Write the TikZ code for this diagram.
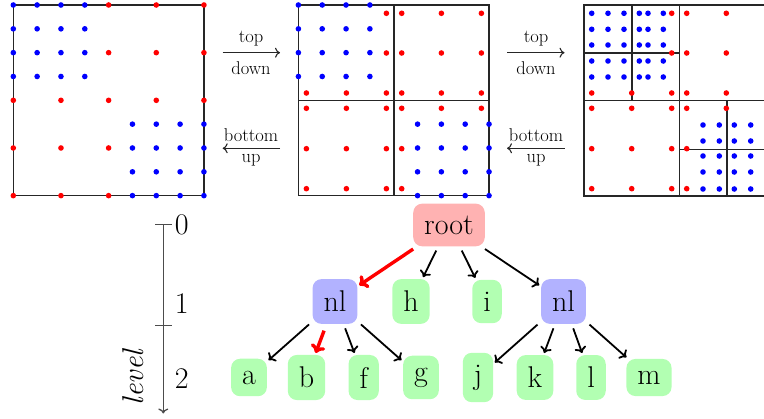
\documentclass[tikz,border=0pt]{standalone}
\usepackage{fontspec}
\usetikzlibrary{arrows.meta}
\begin{document}
\begin{tikzpicture}[x=1pt,y=-1pt,
  pframe/.style={draw=black!85, line width=1.6pt},
  bd/.style={fill=blue},
  rd/.style={fill=red},
  tnode/.style={rounded corners=9pt, inner xsep=11pt, inner ysep=12pt, font=\fontsize{30}{36}\selectfont},
  rootn/.style={tnode, fill=red!30},
  nln/.style={tnode, fill=blue!30},
  leaf/.style={tnode, fill=green!30},
  tedge/.style={-{To[length=6pt,width=12pt]}, line width=1.8pt, shorten <=4.5pt, shorten >=2pt},
  redge/.style={-{To[length=8pt,width=15pt]}, red, line width=3.4pt, shorten <=4.5pt, shorten >=2pt},
  parrow/.style={-{To[length=5pt,width=10pt]}, line width=1.1pt, black!85},
  plbl/.style={font=\fontsize{18.5}{22}\selectfont, inner sep=0pt},
  axlbl/.style={font=\fontsize{30}{36}\selectfont, inner sep=0pt},
]
\useasboundingbox (0,0) rectangle (764,419);
\clip (0,0) rectangle (764,419);

% ---------- panel 1 ----------
\def\s{23.83}
\def\r{2.8pt}
\begin{scope}[shift={(13.3,5)}]
  \draw[pframe] (0,0) rectangle (190.6,190.6);
  \foreach \i in {0,...,3} \foreach \j in {0,...,3}
    \fill[bd] (\i*\s,\j*\s) circle (\r);
  \foreach \i in {5,...,8} \foreach \j in {5,...,8}
    \fill[bd] (\i*\s,\j*\s) circle (\r);
  \foreach \i/\j in {4/0,6/0,8/0,4/2,6/2,8/2,0/4,2/4,4/4,6/4,8/4,0/6,2/6,4/6,0/8,2/8,4/8}
    \fill[rd] (\i*\s,\j*\s) circle (\r);
\end{scope}

% ---------- panel 2 ----------
\begin{scope}[shift={(298.4,5)}]
  \draw[pframe] (0,0) rectangle (190.6,190.6);
  \draw[pframe] (95.3,0) -- (95.3,190.6);
  \draw[pframe] (0,95.7) -- (190.6,95.7);
  \foreach \i in {0,...,3} \foreach \j in {0,...,3}
    \fill[bd] (\i*\s,\j*\s) circle (\r);
  \foreach \i in {5,...,8} \foreach \j in {5,...,8}
    \fill[bd] (\i*\s,\j*\s) circle (\r);
  \foreach \x/\y in {88/8.3,88/48,8/88,48/88,88/88}
    \fill[rd] (\x,\y) circle (\r);
  \foreach \x in {103.3,143,183} \foreach \y in {8.3,48,88}
    \fill[rd] (\x,\y) circle (\r);
  \foreach \x in {8,48,88} \foreach \y in {103.3,143.7,183.7}
    \fill[rd] (\x,\y) circle (\r);
  \foreach \x/\y in {103.3/103.3,143/103.3,183/103.3,103.3/143.7,103.3/183.7}
    \fill[rd] (\x,\y) circle (\r);
\end{scope}

% ---------- panel 3 ----------
\draw[pframe] (584,5.3) rectangle (774,196);
\draw[pframe] (679.3,5.3) -- (679.3,196);
\draw[pframe] (584,100.7) -- (774,100.7);
\draw[pframe] (631.7,5.3) -- (631.7,100.7);
\draw[pframe] (584,53) -- (679.3,53);
\draw[pframe] (726.7,100.7) -- (726.7,196);
\draw[pframe] (679.3,149.5) -- (774,149.5);
\foreach \x in {591.7,608,624,639.3,648,663.3} \foreach \y in {13.3,29.3,45,61,77}
  \fill[bd] (\x,\y) circle (\r);
\foreach \x/\y in {671.7/13.3,671.7/53,591.7/93,631.7/93,671.7/93}
  \fill[rd] (\x,\y) circle (\r);
\foreach \x in {686.7,726.3} \foreach \y in {13.3,53,93}
  \fill[rd] (\x,\y) circle (\r);
\foreach \x in {591.7,631.7,671.7} \foreach \y in {108.3,148.7,188.7}
  \fill[rd] (\x,\y) circle (\r);
\foreach \x/\y in {686.7/108.3,726.3/108.3,686.7/148.7,686.7/188.7}
  \fill[rd] (\x,\y) circle (\r);
\foreach \x in {703,719.3,734.3,750.7} \foreach \y in {125,141,156,172,189}
  \fill[bd] (\x,\y) circle (\r);

% ---------- arrows between panels ----------
\coordinate (td1s) at (222.7,52.7);
\coordinate (td1e) at (280,52.7);
\coordinate (bu1s) at (280,148.3);
\coordinate (bu1e) at (222.7,148.3);
\coordinate (td2s) at (507,52.7);
\coordinate (td2e) at (564.5,52.7);
\coordinate (bu2s) at (564.5,148.3);
\coordinate (bu2e) at (507,148.3);
\draw[parrow] (td1s) -- (td1e);
\draw[parrow] (bu1s) -- (bu1e);
\draw[parrow] (td2s) -- (td2e);
\draw[parrow] (bu2s) -- (bu2e);
\node[plbl] (top1) at (251,38.3) {top};
\node[plbl] (down1) at (251,68.3) {down};
\node[plbl] (bot1) at (251,135) {bottom};
\node[plbl] (up1) at (251,160) {up};
\node[plbl] (top2) at (536,38.3) {top};
\node[plbl] (down2) at (536,68.3) {down};
\node[plbl] (bot2) at (536,135) {bottom};
\node[plbl] (up2) at (536,160) {up};

% ---------- level axis ----------
\coordinate (ax0) at (163.3,224.3);
\coordinate (axe) at (163.3,413.5);
\coordinate (t0l) at (155,224.3);
\coordinate (t0r) at (171.7,224.3);
\coordinate (t1l) at (155,325.7);
\coordinate (t1r) at (171.7,325.7);
\draw[-{To[length=5pt,width=10pt]}, line width=1.3pt, black!70] (ax0) -- (axe);
\draw[line width=1.3pt, black!70] (t0l) -- (t0r);
\draw[line width=1.3pt, black!70] (t1l) -- (t1r);
\node[axlbl] (l0) at (181.7,225) {0};
\node[axlbl] (l1) at (181.7,303.3) {1};
\node[axlbl] (l2) at (181.7,379) {2};
\node[axlbl, rotate=90] (lv) at (133.3,377.5) {\itshape level};

% ---------- tree ----------
\node[rootn] (root) at (449,225) {root};
\node[nln] (nl1) at (335,301.5) {nl};
\node[leaf] (h) at (411,301.5) {h};
\node[leaf] (i) at (487,301.5) {i};
\node[nln] (nl2) at (563.5,301.5) {nl};
\node[leaf] (a) at (249,377.5) {a};
\node[leaf] (b) at (306.5,377.5) {b};
\node[leaf] (f) at (363.7,377.5) {f};
\node[leaf] (g) at (421,377.5) {g};
\node[leaf] (j) at (478,377.5) {j};
\node[leaf] (k) at (535,377.5) {k};
\node[leaf] (l) at (591,377.5) {l};
\node[leaf] (m) at (649,377.5) {m};

\draw[redge] (root) -- (nl1);
\draw[tedge] (root) -- (h);
\draw[tedge] (root) -- (i);
\draw[tedge] (root) -- (nl2);
\draw[tedge] (nl1) -- (a);
\draw[redge, shorten <=7pt] (nl1) -- (b);
\draw[tedge] (nl1) -- (f);
\draw[tedge] (nl1) -- (g);
\draw[tedge] (nl2) -- (j);
\draw[tedge] (nl2) -- (k);
\draw[tedge] (nl2) -- (l);
\draw[tedge] (nl2) -- (m);
\end{tikzpicture}
\end{document}
